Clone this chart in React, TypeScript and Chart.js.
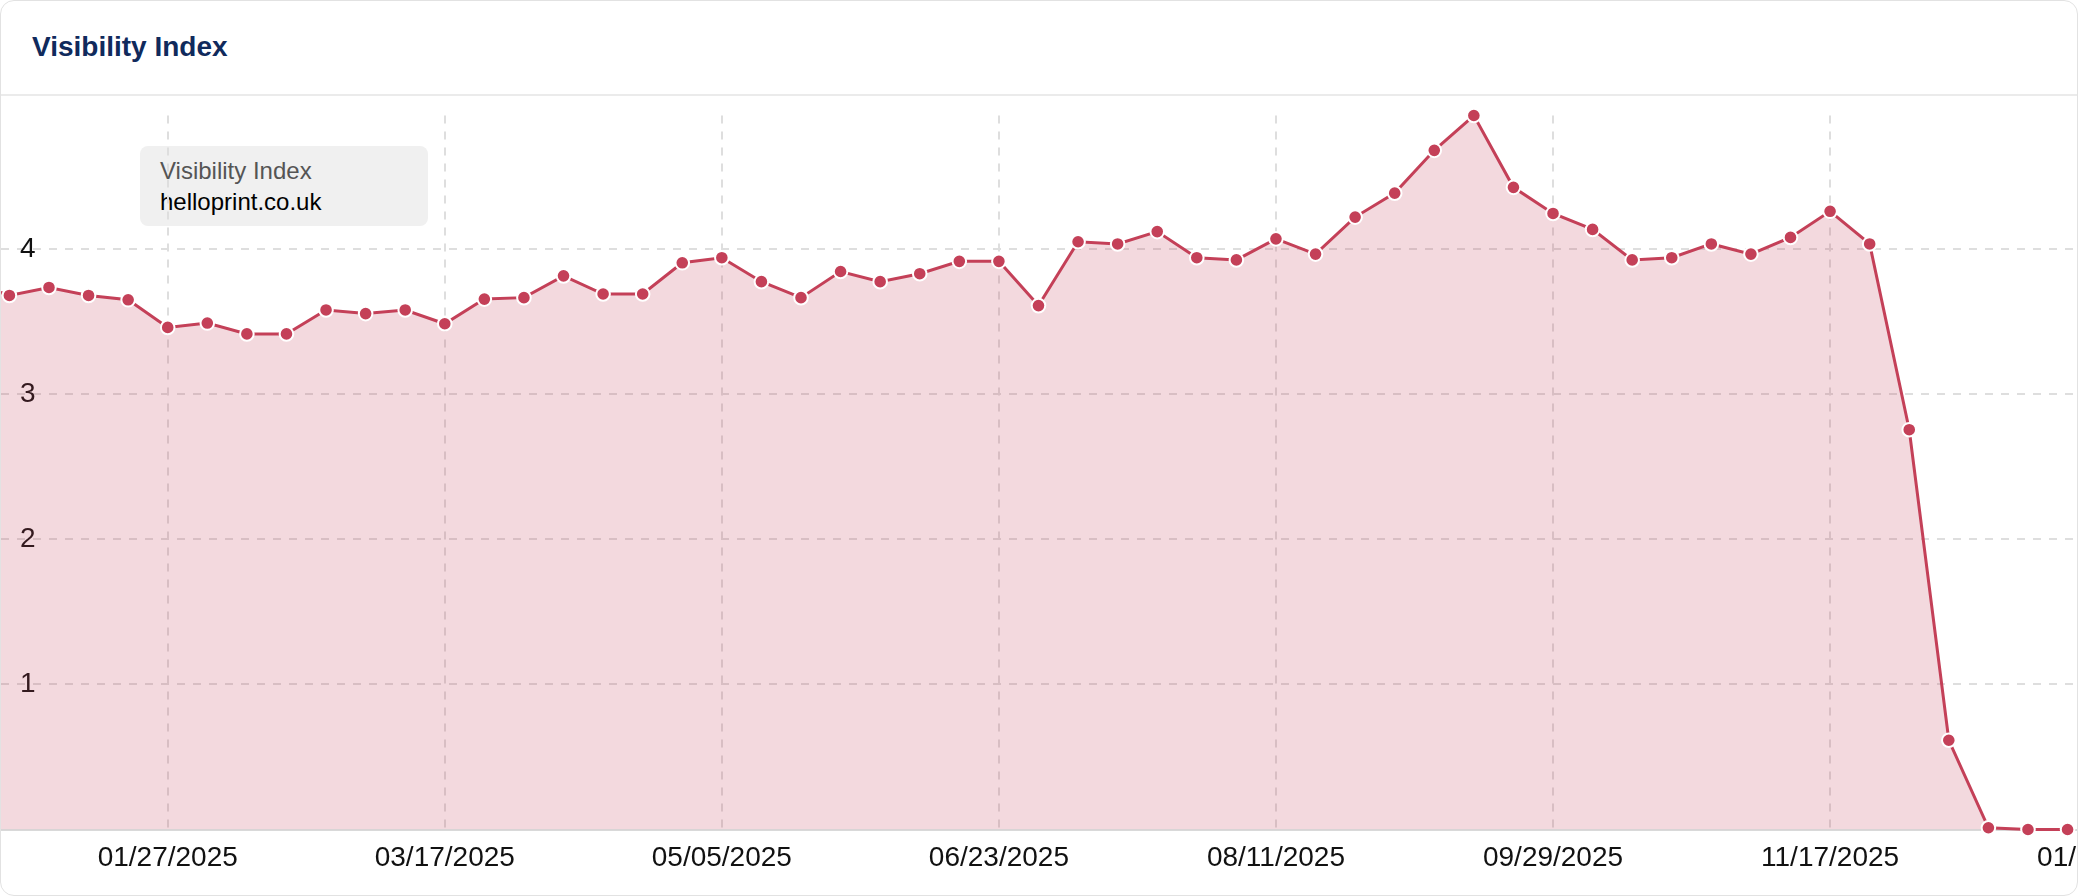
import React, { useEffect, useRef } from "react";
import { Chart, registerables } from "chart.js";

Chart.register(...registerables);

// ---- data -------------------------------------------------------------
const chartTitle = "Visibility Index";
const seriesLabel = "Visibility Index";
const seriesName = "helloprint.co.uk";

const dates: string[] = [
  "12/23/2024", "12/30/2024", "01/06/2025", "01/13/2025", "01/20/2025", "01/27/2025",
  "02/03/2025", "02/10/2025", "02/17/2025", "02/24/2025", "03/03/2025", "03/10/2025",
  "03/17/2025", "03/24/2025", "03/31/2025", "04/07/2025", "04/14/2025", "04/21/2025",
  "04/28/2025", "05/05/2025", "05/12/2025", "05/19/2025", "05/26/2025", "06/02/2025",
  "06/09/2025", "06/16/2025", "06/23/2025", "06/30/2025", "07/07/2025", "07/14/2025",
  "07/21/2025", "07/28/2025", "08/04/2025", "08/11/2025", "08/18/2025", "08/25/2025",
  "09/01/2025", "09/08/2025", "09/15/2025", "09/22/2025", "09/29/2025", "10/06/2025",
  "10/13/2025", "10/20/2025", "10/27/2025", "11/03/2025", "11/10/2025", "11/17/2025",
  "11/24/2025", "12/01/2025", "12/08/2025", "12/15/2025", "12/22/2025", "12/29/2025",
];

const visibilityValues: number[] = [
  3.77, 3.68, 3.735, 3.68, 3.65, 3.46,
  3.49, 3.415, 3.415, 3.58, 3.555, 3.58,
  3.485, 3.655, 3.665, 3.815, 3.69, 3.69,
  3.905, 3.94, 3.775, 3.665, 3.845, 3.775,
  3.83, 3.915, 3.915, 3.61, 4.05, 4.035,
  4.12, 3.94, 3.925, 4.07, 3.965, 4.22,
  4.385, 4.68, 4.92, 4.425, 4.245, 4.135,
  3.925, 3.94, 4.035, 3.965, 4.08, 4.26,
  4.035, 2.755, 0.615, 0.012, 0, 0,
];

const tickLabels: string[] = [
  "01/27/2025", "03/17/2025", "05/05/2025", "06/23/2025",
  "08/11/2025", "09/29/2025", "11/17/2025", "01/05/2026",
];

// ---- styling ----------------------------------------------------------
const LINE = "rgb(196,64,88)";
const FILL = "rgba(196,64,88,0.2)";
const GRID = "#dedede";
const FONT = "'Liberation Sans', Arial, Helvetica, sans-serif";

const CANVAS_W = 2277;
const CANVAS_H = 799;
const PX_PER_DAY = 39.58 / 7;
const FIRST_OFFSET = 8.4;

function toDay(s: string): number {
  const [m, d, y] = s.split("/").map(Number);
  return Date.UTC(y, m - 1, d) / 86400000;
}

export default function App() {
  const ref = useRef<HTMLCanvasElement>(null);

  useEffect(() => {
    const points = dates.map((d, i) => ({ x: toDay(d), y: visibilityValues[i] }));
    const xMin = toDay(dates[1]) - FIRST_OFFSET / PX_PER_DAY;
    const xMax = xMin + CANVAS_W / PX_PER_DAY;
    const yMax = Math.max(...visibilityValues);

    const chart = new Chart(ref.current as HTMLCanvasElement, {
      type: "line",
      data: {
        datasets: [
          {
            label: seriesName,
            data: points,
            borderColor: LINE,
            backgroundColor: FILL,
            borderWidth: 3,
            fill: "origin",
            tension: 0,
            pointRadius: 6.8,
            pointBorderWidth: 2,
            pointBorderColor: "#ffffff",
            pointBackgroundColor: LINE,
            clip: false as any,
          },
        ],
      },
      options: {
        animation: false,
        responsive: false,
        events: [],
        layout: {
          autoPadding: false,
          padding: { top: 19.5, bottom: 7.9, left: 0, right: 0 },
        },
        plugins: {
          legend: { display: false },
          tooltip: { enabled: false },
        },
        scales: {
          x: {
            type: "linear",
            min: xMin,
            max: xMax,
            afterBuildTicks: (s: any) => {
              s.ticks = tickLabels.map((t) => ({ value: toDay(t) }));
            },
            afterFit: (s: any) => {
              s.paddingLeft = 0;
              s.paddingRight = 0;
            },
            grid: { color: GRID, lineWidth: 2, drawTicks: false },
            border: { display: true, color: "#d9d9d9", width: 2, dash: [8, 8] },
            ticks: {
              autoSkip: false,
              maxRotation: 0,
              minRotation: 0,
              padding: 12,
              color: "#111",
              font: { family: FONT, size: 28 },
              callback: (_v: any, i: number) => tickLabels[i],
            },
          },
          y: {
            type: "linear",
            min: 0,
            max: yMax,
            afterFit: (s: any) => {
              s.width = 0;
              s.paddingTop = 0;
              s.paddingBottom = 0;
            },
            grid: { color: GRID, lineWidth: 2, drawTicks: false },
            border: { display: false, dash: [8, 8] },
            ticks: {
              stepSize: 1,
              includeBounds: false,
              mirror: true,
              padding: 19,
              color: "#111",
              font: { family: FONT, size: 28 },
              callback: (v: any) => (v === 0 ? "" : String(v)),
            },
          },
        },
      },
    });
    return () => chart.destroy();
  }, []);

  return (
    <div
      style={{
        position: "absolute",
        left: 0,
        top: 0,
        width: 2078,
        height: 896,
        boxSizing: "border-box",
        border: "1px solid #e2e2e2",
        borderRadius: 14,
        overflow: "hidden",
        background: "#fff",
        fontFamily: FONT,
      }}
    >
      <div
        style={{
          position: "absolute",
          left: 31,
          top: 32,
          fontSize: 28,
          lineHeight: "28px",
          fontWeight: 700,
          color: "#102a5c",
          whiteSpace: "nowrap",
        }}
      >
        {chartTitle}
      </div>
      <div
        style={{
          position: "absolute",
          left: 0,
          top: 93,
          width: "100%",
          height: 2,
          background: "#ebebeb",
        }}
      />
      <div
        style={{
          position: "absolute",
          left: 139,
          top: 145,
          width: 288,
          height: 80,
          boxSizing: "border-box",
          padding: "9px 20px",
          background: "#f0f0f0",
          borderRadius: 8,
          fontSize: 24,
          lineHeight: "31px",
          zIndex: 0,
          whiteSpace: "nowrap",
        }}
      >
        <div style={{ color: "#555" }}>{seriesLabel}</div>
        <div style={{ color: "#000" }}>{seriesName}</div>
      </div>
      <canvas
        ref={ref}
        width={CANVAS_W}
        height={CANVAS_H}
        style={{
          position: "absolute",
          left: 0,
          top: 95,
          width: CANVAS_W,
          height: CANVAS_H,
          zIndex: 1,
        }}
      />
    </div>
  );
}
